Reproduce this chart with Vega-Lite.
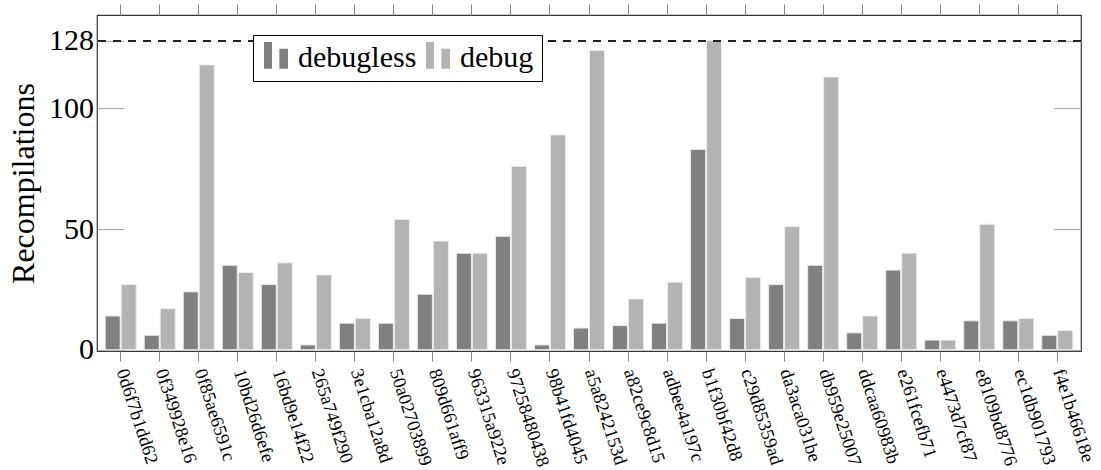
{
  "$schema": "https://vega.github.io/schema/vega-lite/v6.json",
  "width": 984,
  "height": 336,
  "autosize": {"type": "none"},
  "padding": {"left": 97, "top": 15, "right": 20, "bottom": 119},
  "background": "white",
  "config": {
    "view": {"stroke": "#333333", "strokeWidth": 1.2},
    "font": "'Liberation Serif', 'DejaVu Serif', serif"
  },
  "data": {
    "values": [
      {"id": "0d6f7b1dd62", "build": "debugless", "n": 14}, {"id": "0d6f7b1dd62", "build": "debug", "n": 27},
      {"id": "0f349928e16", "build": "debugless", "n": 6}, {"id": "0f349928e16", "build": "debug", "n": 17},
      {"id": "0f85ae6591c", "build": "debugless", "n": 24}, {"id": "0f85ae6591c", "build": "debug", "n": 118},
      {"id": "10bd26d6efe", "build": "debugless", "n": 35}, {"id": "10bd26d6efe", "build": "debug", "n": 32},
      {"id": "16bd9e14f22", "build": "debugless", "n": 27}, {"id": "16bd9e14f22", "build": "debug", "n": 36},
      {"id": "265a749f290", "build": "debugless", "n": 2}, {"id": "265a749f290", "build": "debug", "n": 31},
      {"id": "3e1cba12a8d", "build": "debugless", "n": 11}, {"id": "3e1cba12a8d", "build": "debug", "n": 13},
      {"id": "50a02703899", "build": "debugless", "n": 11}, {"id": "50a02703899", "build": "debug", "n": 54},
      {"id": "809d661aff9", "build": "debugless", "n": 23}, {"id": "809d661aff9", "build": "debug", "n": 45},
      {"id": "963315a922e", "build": "debugless", "n": 40}, {"id": "963315a922e", "build": "debug", "n": 40},
      {"id": "97258480438", "build": "debugless", "n": 47}, {"id": "97258480438", "build": "debug", "n": 76},
      {"id": "98b41fd4045", "build": "debugless", "n": 2}, {"id": "98b41fd4045", "build": "debug", "n": 89},
      {"id": "a5a8242153d", "build": "debugless", "n": 9}, {"id": "a5a8242153d", "build": "debug", "n": 124},
      {"id": "a82ce9c8d15", "build": "debugless", "n": 10}, {"id": "a82ce9c8d15", "build": "debug", "n": 21},
      {"id": "adbee4a197c", "build": "debugless", "n": 11}, {"id": "adbee4a197c", "build": "debug", "n": 28},
      {"id": "b1f30bf42d8", "build": "debugless", "n": 83}, {"id": "b1f30bf42d8", "build": "debug", "n": 128},
      {"id": "c29d85359ad", "build": "debugless", "n": 13}, {"id": "c29d85359ad", "build": "debug", "n": 30},
      {"id": "da3aca031be", "build": "debugless", "n": 27}, {"id": "da3aca031be", "build": "debug", "n": 51},
      {"id": "db959e25007", "build": "debugless", "n": 35}, {"id": "db959e25007", "build": "debug", "n": 113},
      {"id": "ddcaa60983b", "build": "debugless", "n": 7}, {"id": "ddcaa60983b", "build": "debug", "n": 14},
      {"id": "e261fcefb71", "build": "debugless", "n": 33}, {"id": "e261fcefb71", "build": "debug", "n": 40},
      {"id": "e4473d7cf87", "build": "debugless", "n": 4}, {"id": "e4473d7cf87", "build": "debug", "n": 4},
      {"id": "e8109bd8776", "build": "debugless", "n": 12}, {"id": "e8109bd8776", "build": "debug", "n": 52},
      {"id": "ec1db901793", "build": "debugless", "n": 12}, {"id": "ec1db901793", "build": "debug", "n": 13},
      {"id": "f4e1b46618e", "build": "debugless", "n": 6}, {"id": "f4e1b46618e", "build": "debug", "n": 8}
    ]
  },
  "layer": [
    {
      "mark": {"type": "bar", "stroke": "#ececec", "strokeWidth": 1},
      "encoding": {
        "x": {
          "field": "id", "type": "nominal", "sort": null,
          "scale": {"paddingInner": 0, "paddingOuter": 0.107},
          "axis": {
            "orient": "bottom", "title": null, "domain": false,
            "ticks": true, "tickSize": 10, "tickColor": "#888888", "tickWidth": 1,
            "labelAngle": 72, "labelAlign": "left", "labelBaseline": "middle",
            "labelFont": "'Liberation Serif', 'DejaVu Serif', serif", "labelFontSize": 18.5, "labelColor": "black",
            "labelPadding": 8, "labelOffset": 1.5, "labelOverlap": false, "labelBound": false, "labelLimit": 300
          }
        },
        "xOffset": {
          "field": "build", "type": "nominal",
          "scale": {"domain": ["debugless", "debug"], "paddingInner": 0.0625, "paddingOuter": 0.25}
        },
        "y": {
          "field": "n", "type": "quantitative",
          "scale": {"domain": [-0.52, 138.68], "nice": false, "zero": false},
          "axis": {
            "orient": "left", "values": [0, 50, 100, 128], "grid": false, "domain": false,
            "tickSize": -27, "tickColor": "#aaaaaa", "tickWidth": 1.2,
            "labelFont": "'Liberation Serif', 'DejaVu Serif', serif", "labelFontSize": 30, "labelColor": "black",
            "labelPadding": 30.5, "labelBaseline": "middle",
            "title": "Recompilations", "titleFont": "'Liberation Serif', 'DejaVu Serif', serif", "titleFontSize": 32,
            "titleFontWeight": "normal", "titleColor": "black", "titleX": -63.7,
            "titleBaseline": "alphabetic"
          }
        },
        "color": {
          "field": "build", "type": "nominal",
          "scale": {"domain": ["debugless", "debug"], "range": ["#808080", "#b3b3b3"]},
          "legend": {
            "title": null, "orient": "none", "legendX": 156, "legendY": 20,
            "direction": "horizontal",
            "symbolType": "M-1,-1.33H-0.33V0.89H-1Z M0.28,-0.78H1V0.89H0.28Z",
            "symbolSize": 576, "symbolStrokeWidth": 0, "symbolOpacity": 1,
            "labelFont": "'Liberation Serif', 'DejaVu Serif', serif", "labelFontSize": 30, "labelColor": "black",
            "labelOffset": 7, "columnPadding": 6,
            "padding": 8, "strokeColor": "black", "fillColor": "white", "cornerRadius": 0
          }
        }
      }
    },
    {
      "mark": {"type": "bar", "opacity": 0},
      "encoding": {
        "x": {
          "field": "id", "type": "nominal", "sort": null,
          "axis": {
            "orient": "top", "title": null, "domain": false, "labels": false,
            "tickSize": 11, "tickColor": "#888888", "tickWidth": 1
          }
        },
        "y": {
          "field": "n", "type": "quantitative",
          "axis": {
            "orient": "right", "title": null, "domain": false, "labels": false,
            "values": [0, 50, 100, 128], "grid": false,
            "tickSize": -27, "tickColor": "#aaaaaa", "tickWidth": 1.2
          }
        }
      }
    },
    {
      "mark": {"type": "rule", "color": "#222222", "strokeWidth": 1.3, "strokeDash": [8, 7]},
      "encoding": {
        "y": {"datum": 128, "type": "quantitative", "axis": null}
      }
    }
  ],
  "resolve": {"axis": {"x": "independent", "y": "independent"}}
}
